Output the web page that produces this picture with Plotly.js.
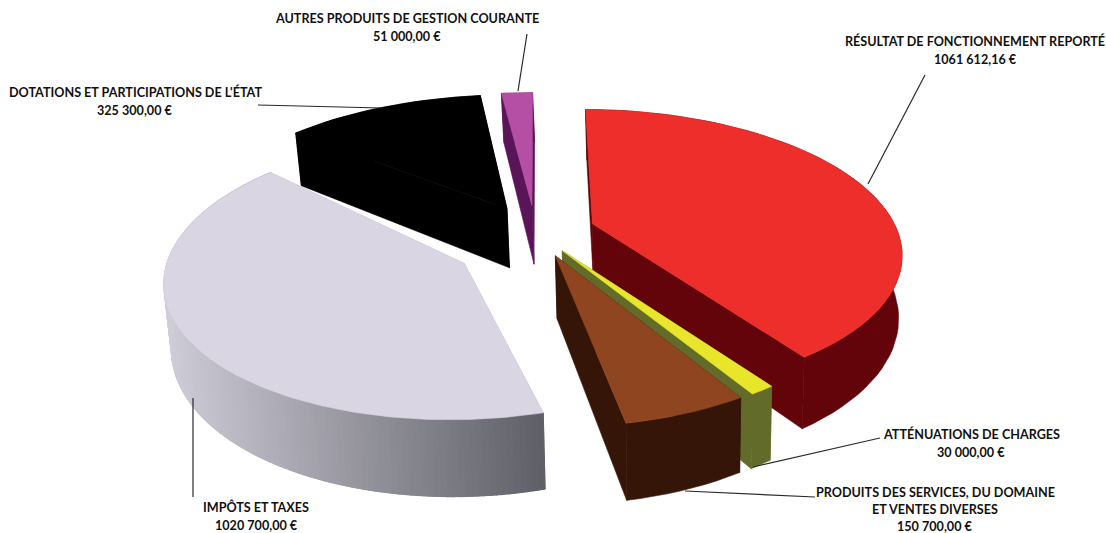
<!DOCTYPE html>
<html><head><meta charset="utf-8">
<script src="https://cdn.plot.ly/plotly-3.0.1.min.js"></script>
<style>html,body{margin:0;padding:0;background:#fff}</style></head>
<body><div id="chart" style="width:1106px;height:533px"></div>
<script>
// --- data
const categories = ["RÉSULTAT DE FONCTIONNEMENT REPORTÉ","ATTÉNUATIONS DE CHARGES","PRODUITS DES SERVICES, DU DOMAINE ET VENTES DIVERSES","IMPÔTS ET TAXES","DOTATIONS ET PARTICIPATIONS DE L'ÉTAT","AUTRES PRODUITS DE GESTION COURANTE"];
const values = [1061612.16, 30000, 150700, 1020700, 325300, 51000];
// --- style per slice
const topColors = ["#EE2E2B","#E8E62A","#8F4620","#DAD5E2","#000000","#B54FA5"];
const faceColors = ["#62040A","#636B2B","#341508","#B0AEBA","#000000","#5A1458"];
const rimStart = ["#62040A","#636B2B","#341508","#5F6068","#000000","#5A1458"];
const rimEnd = ["#62040A","#636B2B","#341508","#CFCDD8","#000000","#5A1458"];
const explode = [0.19,0.15,0.17,0.25,0.19,0.19];
const radius = [0.96,0.92,0.90,0.90,1,1];
const padStart = [0.5,0,0,-4.5,0,0];
const padEnd = [1,0,0,1,0,0];
const apexShift = [0,0,0,-0.08,0,0];
const drawOrder = [4,5,3,0,1,2];
// --- projection settings
const px=535.5, py=232, S=318, Sk=145, P=0.2, H=61, shrink=0.985, lowShift=2;
function project(X,Y,low){
  const d=1+P*Y;
  let x=px+S*X/d, y=py-Sk*Y/d;
  if(low){ y+=H/d; x=px+(x-px)*shrink+lowShift; }
  return [x,y];
}
const rad=a=>a*Math.PI/180;
function hex(c){return [1,3,5].map(i=>parseInt(c.substr(i,2),16));}
function mix(a,b,t){const A=hex(a),B=hex(b);return 'rgb('+A.map((v,i)=>Math.round(v+(B[i]-v)*t)).join(',')+')';}
const total=values.reduce((a,b)=>a+b,0);
const traces=[];
function poly(pts,color,name,w){
  traces.push({type:'scatter',mode:'lines',x:pts.map(p=>p[0]).concat(pts[0][0]),y:pts.map(p=>p[1]).concat(pts[0][1]),
    fill:'toself',fillcolor:color,line:{color:color,width:w===undefined?0.6:w},hoverinfo:'skip',showlegend:false,name:name});
}
let cum=0; const slices=values.map((v,i)=>{const a0=cum/total*360,a1=(cum+v)/total*360;cum+=v;return {i,a0,a1};});
drawOrder.forEach(i=>{
  const s=slices[i], mid=(s.a0+s.a1)/2, e=explode[i], r=radius[i];
  const ox=e*Math.sin(rad(mid)), oy=e*Math.cos(rad(mid));
  const A0=s.a0+padStart[i], A1=s.a1+padEnd[i];
  const step=rimStart[i]===rimEnd[i]?2.5:1;
  const n=Math.max(2,Math.ceil((A1-A0)/step));
  const rim=[];
  for(let k=0;k<=n;k++){const a=A0+(A1-A0)*k/n;rim.push([ox+r*Math.sin(rad(a)),oy+r*Math.cos(rad(a))]);}
  const c=[ox,oy+apexShift[i]];
  const pt=(q,low)=>project(q[0],q[1],low);
  poly([pt(c,false),pt(rim[0],false),pt(rim[0],true),pt(c,true)],faceColors[i],categories[i]);
  poly([pt(c,false),pt(rim[n],false),pt(rim[n],true),pt(c,true)],faceColors[i],categories[i]);
  // outer wall: one flat polygon, or shaded strips when the slice has a gradient
  const wall=rim.map(q=>pt(q,false)).concat(rim.slice().reverse().map(q=>pt(q,true)));
  if(rimStart[i]===rimEnd[i]){ poly(wall,rimStart[i],categories[i]); }
  else{
    const xs=rim.map(q=>pt(q,false)[0]),xmin=Math.min(...xs),xmax=Math.max(...xs);
    poly(wall,mix(rimStart[i],rimEnd[i],0.5),categories[i]);
    for(let k=0;k<n;k++){
      poly([pt(rim[k],false),pt(rim[k+1],false),pt(rim[k+1],true),pt(rim[k],true)],
        mix(rimStart[i],rimEnd[i],(xmax-xs[k])/(xmax-xmin)),categories[i],1.2);
    }
  }
  poly([pt(c,false)].concat(rim.map(q=>pt(q,false))),topColors[i],categories[i]);
});
function euro(v){
  const [a,b]=v.toFixed(2).split('.');
  return a.slice(0,-3)+' '+a.slice(-3)+','+b+' €';
}
const labelLines=[
  ["RÉSULTAT DE FONCTIONNEMENT REPORTÉ",euro(values[0])],
  ["ATTÉNUATIONS DE CHARGES",euro(values[1])],
  ["PRODUITS DES SERVICES, DU DOMAINE","ET VENTES DIVERSES",euro(values[2])],
  ["IMPÔTS ET TAXES",euro(values[3])],
  ["DOTATIONS ET PARTICIPATIONS DE L'ÉTAT",euro(values[4])],
  ["AUTRES PRODUITS DE GESTION COURANTE",euro(values[5])]
];
const labelX=[975,971,935,256,135,407];
const labelY=[41,434,492.5,507,92,18];
const lineGap=[18,18,17,18,18,18];
const annotations=[];
labelLines.forEach((ls,i)=>ls.forEach((t,j)=>annotations.push({x:labelX[i],y:labelY[i]+j*lineGap[i],xref:'x',yref:'y',text:t,showarrow:false,
  xanchor:'center',yanchor:'middle',font:{family:'Lato, sans-serif',size:12.6,color:'#111',weight:700}})));
const leaders=[[925,75,868,184],[753,467,880,438],[685,491,815,497],[193,398,193,497],[258,105,382,108],[527,34,518,91]];
const shapes=leaders.map(l=>({type:'line',xref:'x',yref:'y',x0:l[0],y0:l[1],x1:l[2],y1:l[3],line:{color:'#2a2a2a',width:1.2}}));
Plotly.newPlot('chart',traces,{width:1106,height:533,margin:{l:0,r:0,t:0,b:0},paper_bgcolor:'#fff',plot_bgcolor:'#fff',showlegend:false,
  xaxis:{range:[0,1106],visible:false,fixedrange:true},yaxis:{range:[533,0],visible:false,fixedrange:true},annotations,shapes},{displayModeBar:false,staticPlot:true});
</script></body></html>
